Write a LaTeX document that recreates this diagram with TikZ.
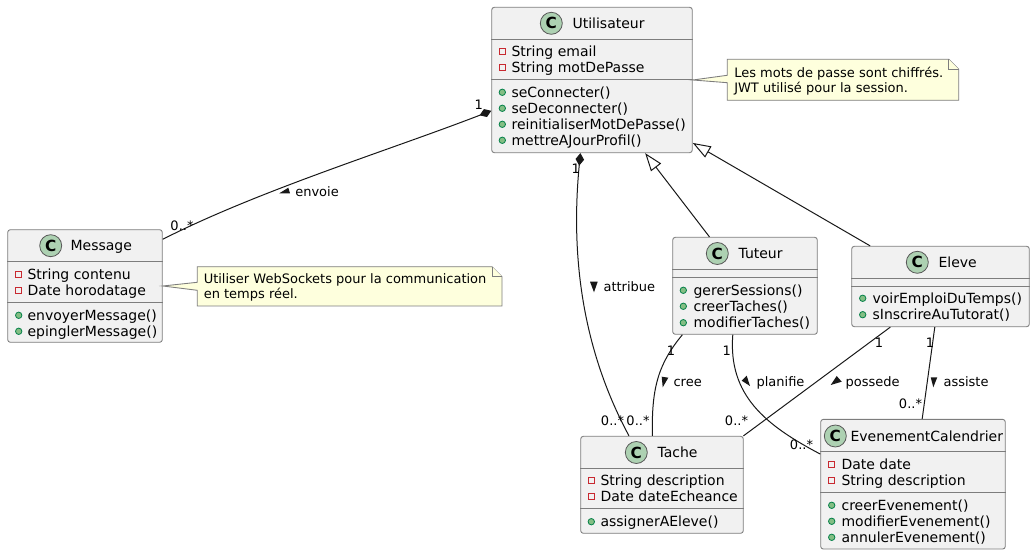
\documentclass[tikz,border=0pt]{standalone}
\usepackage{fontspec}
\usepackage{xcolor}
\usepackage{tikz}
\usetikzlibrary{arrows.meta}
\setmainfont{DejaVu Sans}
\definecolor{boxgray}{RGB}{241,241,241}
\definecolor{linedark}{RGB}{24,24,24}
\definecolor{linegray}{RGB}{125,125,125}
\definecolor{spotgreen}{RGB}{173,209,178}
\definecolor{notecream}{RGB}{254,255,221}
\definecolor{privred}{RGB}{200,41,48}
\definecolor{publine}{RGB}{3,128,72}
\definecolor{pubfill}{RGB}{132,190,132}

\begin{document}
\begin{tikzpicture}[x=0.75pt, y=-0.75pt,
  classbox/.style 2 args={rectangle, fill=boxgray, draw=linegray, line width=0.65pt,
                  rounded corners=2pt, inner sep=0pt,
                  minimum width=#1*0.75pt, minimum height=#2*0.75pt},
  divider/.style={draw=linegray, line width=0.65pt},
  spot/.style={circle, fill=spotgreen, draw=linegray!70!black, line width=0.6pt, inner sep=0pt,
               minimum size=16.5pt, font=\fontsize{11.5}{12}\selectfont\bfseries},
  classname/.style={anchor=mid west, inner sep=0pt, yshift=-1.1pt, font=\fontsize{10.5}{12}\selectfont},
  member/.style={anchor=mid west, inner sep=0pt, yshift=-1.1pt, font=\fontsize{10.5}{12}\selectfont},
  privmark/.style={rectangle, draw=privred, line width=0.6pt, inner sep=0pt, minimum size=4.5pt},
  pubmark/.style={circle, fill=pubfill, draw=publine, line width=0.6pt, inner sep=0pt, minimum size=4.8pt},
  link/.style={draw=linedark, line width=0.75pt},
  owns/.style={link, {Diamond[length=9.4pt,width=6.4pt]}-},
  extends/.style={link, -{Triangle[length=13.5pt,width=9.5pt,fill=white]}},
  edgetext/.style={anchor=mid west, inner sep=0pt, yshift=-0.8pt, font=\fontsize{9.75}{12}\selectfont},
  multtext/.style={inner sep=0pt, font=\fontsize{9.75}{12}\selectfont},
  sense/.style={fill=linedark},
  noteshape/.style={fill=notecream, draw=linegray, line width=0.65pt, line join=miter},
  notetext/.style={anchor=west, inner sep=0pt, align=left, yshift=-0.9pt, font=\fontsize{9.75}{11.25}\selectfont}]

\useasboundingbox (0,0) rectangle (1035,555);

% Utilisateur
\node[classbox={200.6}{145.4}] (utilisateur) at (592,80) {};
\draw[divider] (utilisateur.west |- 0,39.3) -- (utilisateur.east |- 0,39.3);
\draw[divider] (utilisateur.west |- 0,79.3) -- (utilisateur.east |- 0,79.3);
\node[spot] (utilisateurC) at (551.3,23.3) {C};
\node[classname] (utilisateurT) at (572.3,23.3) {Utilisateur};
\foreach \i/\y/\txt in {1/51.7/String email, 2/67.7/String motDePasse} {
  \node[privmark] (utilisateurP\i) at (502.3,\y) {};
  \node[member] (utilisateurA\i) at (511.3,\y) {\txt};
}
\foreach \i/\y/\txt in {1/92.3/seConnecter(), 2/108.3/seDeconnecter(), 3/124.3/reinitialiserMotDePasse(), 4/140.3/mettreAJourProfil()} {
  \node[pubmark] (utilisateurQ\i) at (502.3,\y) {};
  \node[member] (utilisateurM\i) at (511.3,\y) {\txt};
}

% Message
\node[classbox={154.6}{112.6}] (message) at (85,286) {};
\draw[divider] (message.west |- 0,261.3) -- (message.east |- 0,261.3);
\draw[divider] (message.west |- 0,302.3) -- (message.east |- 0,302.3);
\node[spot] (messageC) at (50.7,245.7) {C};
\node[classname] (messageT) at (70.3,245.7) {Message};
\foreach \i/\y/\txt in {1/274.3/String contenu, 2/290.3/Date horodatage} {
  \node[privmark] (messageP\i) at (18.7,\y) {};
  \node[member] (messageA\i) at (27.3,\y) {\txt};
}
\foreach \i/\y/\txt in {1/315.3/envoyerMessage(), 2/331.3/epinglerMessage()} {
  \node[pubmark] (messageQ\i) at (18.7,\y) {};
  \node[member] (messageM\i) at (27.3,\y) {\txt};
}

% Tuteur
\node[classbox={144.6}{97}] (tuteur) at (745,285.8) {};
\draw[divider] (tuteur.west |- 0,269.3) -- (tuteur.east |- 0,269.3);
\draw[divider] (tuteur.west |- 0,277.3) -- (tuteur.east |- 0,277.3);
\node[spot] (tuteurC) at (717.3,253.5) {C};
\node[classname] (tuteurT) at (738.3,253.5) {Tuteur};
\foreach \i/\y/\txt in {1/290.3/gererSessions(), 2/306.3/creerTaches(), 3/322.7/modifierTaches()} {
  \node[pubmark] (tuteurQ\i) at (683.3,\y) {};
  \node[member] (tuteurM\i) at (693.3,\y) {\txt};
}

% Eleve
\node[classbox={177.6}{80.4}] (eleve) at (940.5,286.5) {};
\draw[divider] (eleve.west |- 0,278.3) -- (eleve.east |- 0,278.3);
\draw[divider] (eleve.west |- 0,286.3) -- (eleve.east |- 0,286.3);
\node[spot] (eleveC) at (917.3,262.3) {C};
\node[classname] (eleveT) at (938.3,262.3) {Eleve};
\foreach \i/\y/\txt in {1/298.3/voirEmploiDuTemps(), 2/314.7/sInscrireAuTutorat()} {
  \node[pubmark] (eleveQ\i) at (862.7,\y) {};
  \node[member] (eleveM\i) at (872.3,\y) {\txt};
}

% Tache
\node[classbox={162.6}{97}] (tache) at (662,484.8) {};
\draw[divider] (tache.west |- 0,468.7) -- (tache.east |- 0,468.7);
\draw[divider] (tache.west |- 0,508.3) -- (tache.east |- 0,508.3);
\node[spot] (tacheC) at (636.3,452.5) {C};
\node[classname] (tacheT) at (657.3,452.5) {Tache};
\foreach \i/\y/\txt in {1/480.8/String description, 2/496.8/Date dateEcheance} {
  \node[privmark] (tacheP\i) at (591.3,\y) {};
  \node[member] (tacheA\i) at (600.3,\y) {\txt};
}
\node[pubmark] (tacheQ1) at (591.3,521.7) {};
\node[member] (tacheM1) at (600.3,521.7) {assignerAEleve()};

% EvenementCalendrier
\node[classbox={184.6}{129.7}] (evenement) at (913,484.2) {};
\draw[divider] (evenement.west |- 0,451.3) -- (evenement.east |- 0,451.3);
\draw[divider] (evenement.west |- 0,492.3) -- (evenement.east |- 0,492.3);
\node[spot] (evenementC) at (835.3,436) {C};
\node[classname] (evenementT) at (850.3,436) {EvenementCalendrier};
\foreach \i/\y/\txt in {1/464.3/Date date, 2/480.3/String description} {
  \node[privmark] (evenementP\i) at (831.7,\y) {};
  \node[member] (evenementA\i) at (841.3,\y) {\txt};
}
\foreach \i/\y/\txt in {1/505.3/creerEvenement(), 2/521.3/modifierEvenement(), 3/537.3/annulerEvenement()} {
  \node[pubmark] (evenementQ\i) at (831.7,\y) {};
  \node[member] (evenementM\i) at (841.3,\y) {\txt};
}

% notes
\draw[noteshape] (727.3,59.3) -- (948.7,59.3) -- (958.7,69.3) -- (958.7,100.3) -- (727.3,100.3) -- (727.3,82.7)
  -- (utilisateur.east) -- (727.3,75.3) -- cycle;
\draw[noteshape] (948.7,59.3) -- (948.7,69.3) -- (958.7,69.3);
\node[notetext] (noteUtilisateur) at (734,80) {Les mots de passe sont chiffrés.\\JWT utilisé pour la session.};

\draw[noteshape] (197.3,266.7) -- (492,266.7) -- (502,276.7) -- (502,306) -- (197.3,306) -- (197.3,290.3)
  -- (message.east) -- (197.3,282.3) -- cycle;
\draw[noteshape] (492,266.7) -- (492,276.7) -- (502,276.7);
\node[notetext] (noteMessage) at (203.5,286) {Utiliser WebSockets pour la communication\\en temps réel.};

% links
\draw[extends] (tuteur.126.4) -- (utilisateur.306.6);
\draw[extends] (eleve.150) -- (utilisateur.328.2);
\draw[owns] (utilisateur.197.5) .. controls (390,150) and (260,190) .. (message.31.8);
\draw[owns] (utilisateur.261.2) .. controls (571,250) and (580,345) .. (tache.124);
\draw[link] (tuteur.218.9) .. controls (660,362) and (651,385) .. (tache.101.3);
\draw[link] (tuteur.256.1) .. controls (728,395) and (765,425) .. (evenement.162.3);
\draw[link] (eleve.219.5) -- (tache.31.9);
\draw[link] (eleve.262.6) -- (evenement.82.4);

% link texts
\fill[sense] (279.3,193.3) -- (290,193.3) -- (288.3,187.7) -- cycle;
\node[edgetext] (envoie) at (295,191.5) {envoie};
\fill[sense] (590,281.7) -- (597.7,281.7) -- (594,292.3) -- cycle;
\node[edgetext] (attribue) at (603.3,286.7) {attribue};
\fill[sense] (661.7,376.7) -- (668.3,377.7) -- (662.7,387.3) -- cycle;
\node[edgetext] (creeT) at (673.3,381.7) {cree};
\fill[sense] (746.7,375.7) -- (750,386) -- (741.7,380.7) -- cycle;
\node[edgetext] (planifieT) at (756.3,381.7) {planifie};
\fill[sense] (830.7,385) -- (841.7,381.7) -- (836.7,376) -- cycle;
\node[edgetext] (possedeT) at (845.3,381.7) {possede};
\fill[sense] (930.7,377.3) -- (937.3,377.3) -- (933.3,387.3) -- cycle;
\node[edgetext] (assisteT) at (943.3,381.7) {assiste};

% multiplicities
\node[multtext] (m1) at (478.7,105) {1};
\node[multtext] (m2) at (182,226) {0..*};
\node[multtext] (m3) at (575.7,169) {1};
\node[multtext] (m4) at (612.5,420.7) {0..*};
\node[multtext] (m5) at (638,420.7) {0..*};
\node[multtext] (m6) at (736.5,420.7) {0..*};
\node[multtext] (m7) at (801.5,444.3) {0..*};
\node[multtext] (m8) at (671,350.7) {1};
\node[multtext] (m9) at (726.7,350.7) {1};
\node[multtext] (m10) at (879,342.7) {1};
\node[multtext] (m11) at (930,342.7) {1};
\node[multtext] (m12) at (910.5,404) {0..*};

\end{tikzpicture}
\end{document}
